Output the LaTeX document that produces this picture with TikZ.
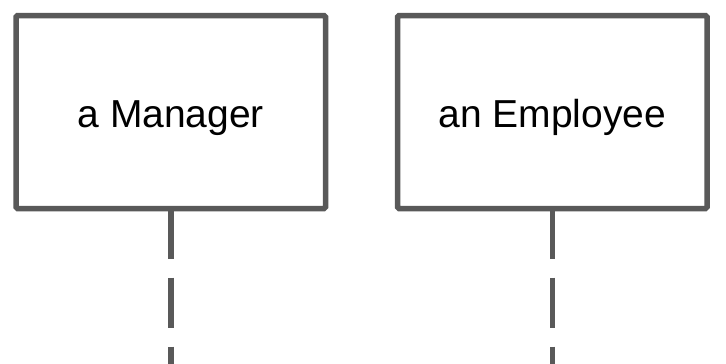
\documentclass[tikz,border=0pt]{standalone}
\usepackage{fontspec}
\setmainfont{Liberation Sans}
\definecolor{linegray}{HTML}{595959}
\begin{document}
\begin{tikzpicture}[x=1pt,y=-1pt,
  lifebox/.style={draw=linegray, line width=5.5pt, fill=white, minimum width=309.5pt, minimum height=193pt, inner sep=0pt, outer sep=0pt, rounded corners=1.5pt, font=\fontsize{39}{46}\selectfont, text=black, text height=30.6pt, text depth=0pt},
  lifeline/.style={draw=linegray, line width=5.5pt, dash pattern=on 50pt off 19pt}]
\useasboundingbox (0,0) rectangle (726,364);
\node[lifebox] (mgr) at (170.75,112) {a Manager};
\node[lifebox] (emp) at (552.25,112) {an Employee};
\coordinate (mgrend) at (170.75,366);
\coordinate (empend) at (552.25,366);
\draw[lifeline] (mgr.south) -- (mgrend);
\draw[lifeline] (emp.south) -- (empend);
\end{tikzpicture}
\end{document}
